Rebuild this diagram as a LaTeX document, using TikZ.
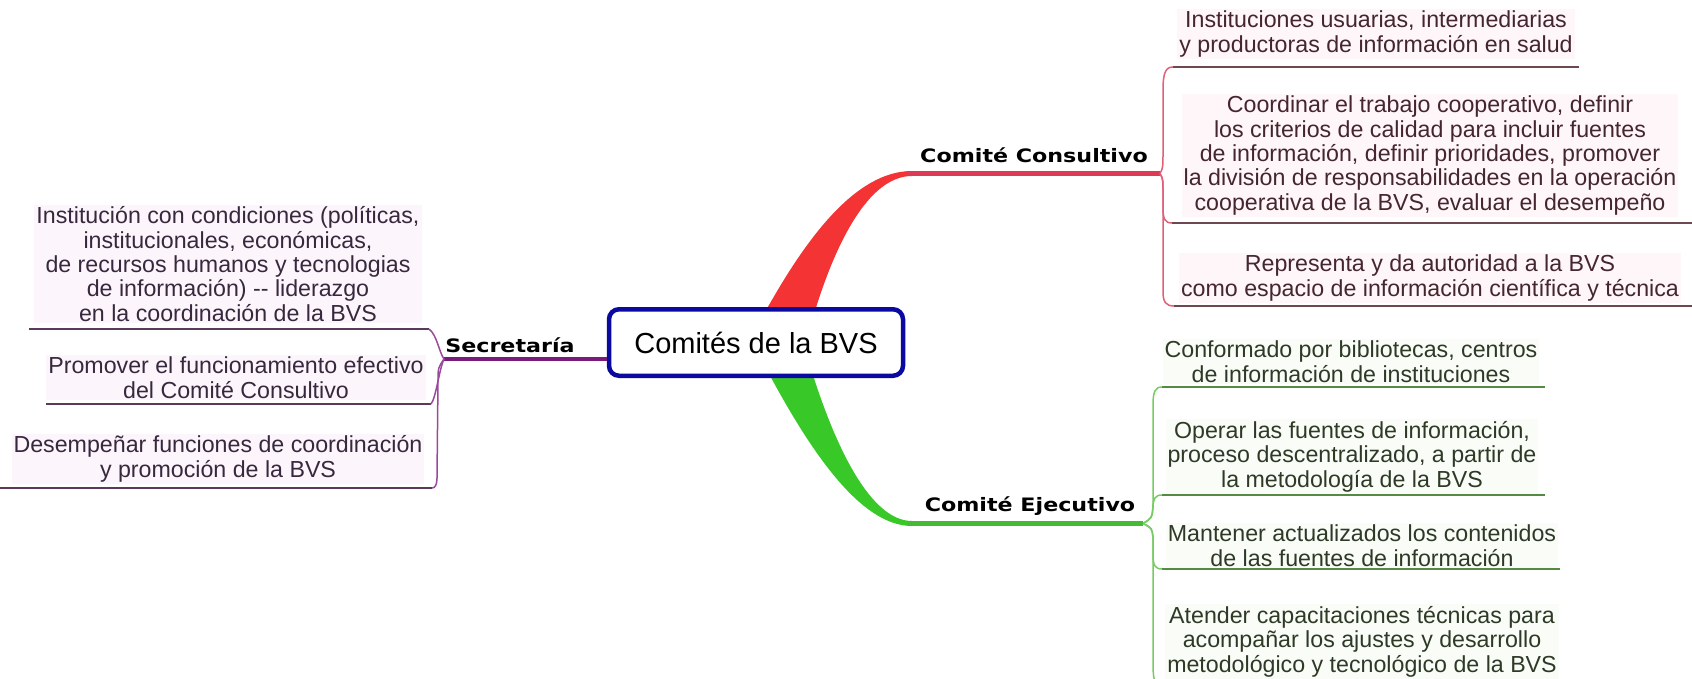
\documentclass[tikz,border=0pt]{standalone}
\usepackage{fontspec}
\setmainfont{Liberation Sans}
\newfontfamily\labfont{DejaVu Sans}[FakeStretch=1.2]
\definecolor{cblue}{HTML}{0A0AA0}
\definecolor{redbr}{HTML}{F43434}
\definecolor{redln}{HTML}{DD3A55}
\definecolor{redfk}{HTML}{E0607A}
\definecolor{redul}{HTML}{6E4850}
\definecolor{grnbr}{HTML}{38C828}
\definecolor{grnln}{HTML}{44BB33}
\definecolor{grnfk}{HTML}{74CC62}
\definecolor{grnul}{HTML}{558A45}
\definecolor{purbr}{HTML}{7A1A7A}
\definecolor{purfk}{HTML}{9A4A9A}
\definecolor{purul}{HTML}{5A3A5A}
\definecolor{txtred}{HTML}{45262F}
\definecolor{txtgrn}{HTML}{2E3A26}
\definecolor{txtpur}{HTML}{38283E}
\definecolor{bgred}{HTML}{FEF6F8}
\definecolor{bggrn}{HTML}{F9FCF7}
\definecolor{bgpur}{HTML}{FCF6FC}
\begin{document}
\begin{tikzpicture}[x=1pt,y=-1pt,
  item/.style={align=center, font=\fontsize{23.2}{24.3}\selectfont, inner sep=2pt, anchor=base},
  reditem/.style={item, text=txtred, fill=bgred},
  grnitem/.style={item, text=txtgrn, fill=bggrn},
  puritem/.style={item, text=txtpur, fill=bgpur},
  branchlab/.style={font=\labfont\bfseries\fontsize{18.5}{20}\selectfont, anchor=base, inner sep=0pt},
  redfork/.style={draw=redfk, line width=1.5pt},
  grnfork/.style={draw=grnfk, line width=1.5pt},
  purfork/.style={draw=purfk, line width=1.5pt},
  ul/.style={line width=1.5pt}
]
\useasboundingbox (0,0) rectangle (1692,678);
\fill[white] (0,0) rectangle (1692,678);

% tapered main branches
\fill[redbr] (764,314) .. controls (805,240) and (855,171) .. (912,171) -- (912,176) .. controls (868,176) and (835,245) .. (814,314) -- cycle;
\fill[grnbr] (768,372) .. controls (810,450) and (860,526) .. (912,526) -- (912,521) .. controls (870,521) and (835,445) .. (812,372) -- cycle;

% root
\node[draw=cblue, line width=4.5pt, rounded corners=10pt, fill=white, minimum width=294pt, minimum height=66.5pt, inner sep=0pt, text height=21pt, text depth=0pt, font=\fontsize{29}{32}\selectfont] (root) at (756,342.5) {Comités de la BVS};

% coordinates
\coordinate (ra) at (908,173.5);
\coordinate (rf) at (1160,173.5);
\coordinate (ga) at (908,523.5);
\coordinate (gf) at (1143,523.5);
\coordinate (pf) at (444,359);

% thin branch lines
\draw[redln, line width=4.5pt] (ra) -- (rf);
\draw[grnln, line width=4.5pt] (ga) -- (gf);
\draw[purbr, line width=4.5pt] (pf) -- (root.west |- pf);

% branch labels
\node[branchlab] (cc) at (1034,162) {Comité Consultivo};
\node[branchlab] (ce) at (1030,511) {Comité Ejecutivo};
\node[branchlab] (sec) at (510,352) {Secretaría};

% ---- red items
\node[reditem] (a1) at (1376,52) {Instituciones usuarias, intermediarias\\y productoras de información en salud};
\node[reditem] (a2) at (1430,210) {Coordinar el trabajo cooperativo, definir\\los criterios de calidad para incluir fuentes\\de información, definir prioridades, promover\\la división de responsabilidades en la operación\\cooperativa de la BVS, evaluar el desempeño};
\node[reditem] (a3) at (1430,296) {Representa y da autoridad a la BVS\\como espacio de información científica y técnica};
\coordinate (a1l) at (1173,67);   \coordinate (a1r) at (1579,67);
\coordinate (a2l) at (1172,223);  \coordinate (a2r) at (1692,223);
\coordinate (a3l) at (1174,306);  \coordinate (a3r) at (1692,306);
\draw[redul, ul] (a1l) -- (a1r);
\draw[redul, ul] (a2l) -- (a2r);
\draw[redul, ul] (a3l) -- (a3r);
\draw[redfork] (rf) .. controls (1163,168) .. (1163,150) -- (1163,90) .. controls (1163,72) and (1166,67) .. (a1l);
\draw[redfork] (rf) .. controls (1163,179) .. (1163,195) -- (1163,208) .. controls (1163,219) and (1165,223) .. (a2l);
\draw[redfork] (rf) .. controls (1163,179) .. (1163,195) -- (1163,292) .. controls (1163,302) and (1166,306) .. (a3l);

% ---- green items
\node[grnitem] (g1) at (1351,382) {Conformado por bibliotecas, centros\\de información de instituciones};
\node[grnitem] (g2) at (1352,487) {Operar las fuentes de información,\\proceso descentralizado, a partir de\\la metodología de la BVS};
\node[grnitem] (g3) at (1362,566) {Mantener actualizados los contenidos\\de las fuentes de información};
\node[grnitem] (g4) at (1362,672) {Atender capacitaciones técnicas para\\acompañar los ajustes y desarrollo\\metodológico y tecnológico de la BVS};
\coordinate (g1l) at (1162,387);  \coordinate (g1r) at (1545,387);
\coordinate (g2l) at (1162,495);  \coordinate (g2r) at (1545,495);
\coordinate (g3l) at (1162,569);  \coordinate (g3r) at (1560,569);
\coordinate (g4l) at (1166,694);
\draw[grnul, ul] (g1l) -- (g1r);
\draw[grnul, ul] (g2l) -- (g2r);
\draw[grnul, ul] (g3l) -- (g3r);
\draw[grnfork] (gf) .. controls (1152,518) .. (1153,505) -- (1153,405) .. controls (1153,392) and (1155,387) .. (g1l);
\draw[grnfork] (gf) .. controls (1152,518) .. (1153,508) .. controls (1153,499) and (1155,495) .. (g2l);
\draw[grnfork] (gf) .. controls (1152,528) .. (1153,538) -- (1153,555) .. controls (1153,565) and (1155,569) .. (g3l);
\draw[grnfork] (gf) .. controls (1152,528) .. (1153,538) -- (1153,665) .. controls (1153,682) and (1156,690) .. (g4l);

% ---- purple items
\node[puritem] (p1) at (228,321) {Institución con condiciones (políticas,\\institucionales, económicas,\\de recursos humanos y tecnologias\\de información) {-}{-} liderazgo\\en la coordinación de la BVS};
\node[puritem] (p2) at (236,398) {Promover el funcionamiento efectivo\\del Comité Consultivo};
\node[puritem] (p3) at (218,477) {Desempeñar funciones de coordinación\\y promoción de la BVS};
\coordinate (p1r) at (429,329);  \coordinate (p1l) at (29,329);
\coordinate (p2r) at (431,404);  \coordinate (p2l) at (46,404);
\coordinate (p3r) at (432,488);  \coordinate (p3l) at (0,488);
\draw[purul, ul] (p1l) -- (p1r);
\draw[purul, ul] (p2l) -- (p2r);
\draw[purul, ul] (p3l) -- (p3r);
\draw[purfork] (pf) .. controls (439,352) and (437,335) .. (p1r);
\draw[purfork] (pf) .. controls (439,370) and (436,398) .. (p2r);
\draw[purfork] (pf) .. controls (438,368) .. (438,380) -- (437,478) .. controls (437,485) and (435,488) .. (p3r);
\end{tikzpicture}
\end{document}
